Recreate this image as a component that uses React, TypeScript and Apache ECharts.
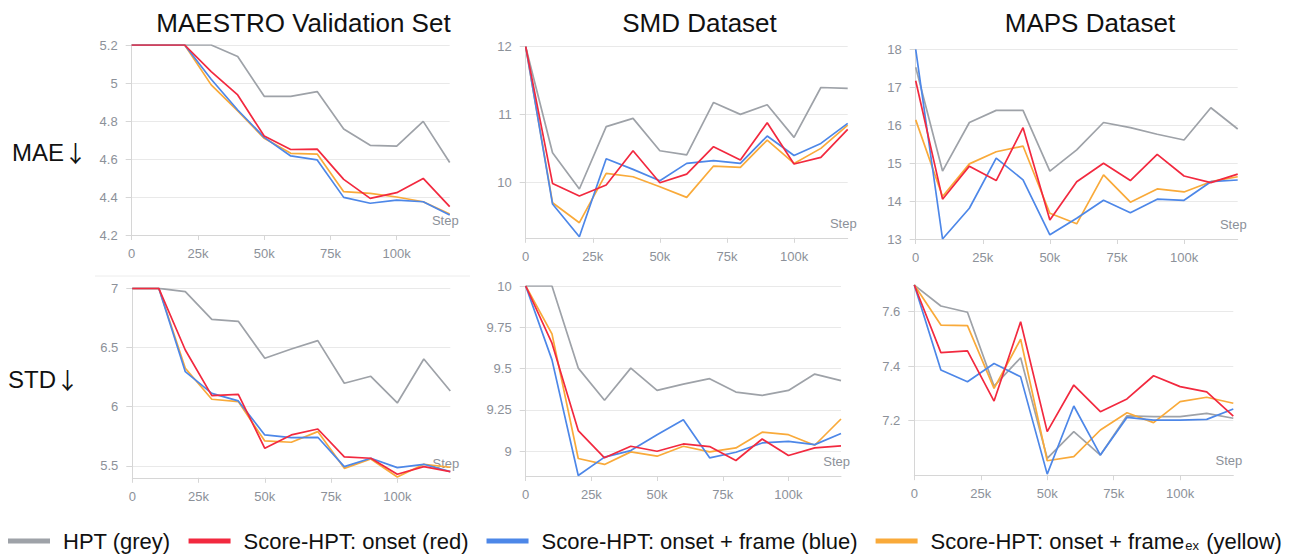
import React, { useEffect, useRef } from 'react';
import * as echarts from 'echarts';

// ---------- data ----------
const steps = [0, 10000, 20000, 30000, 40000, 50000, 60000, 70000, 80000, 90000, 100000, 110000, 120000];

const columnTitles = ['MAESTRO Validation Set', 'SMD Dataset', 'MAPS Dataset'];
const rowLabels = ['MAE', 'STD'];
const rowArrow = '↓';

const NAME_GREY = 'HPT (grey)';
const NAME_RED = 'Score-HPT: onset (red)';
const NAME_BLUE = 'Score-HPT: onset + frame (blue)';
const NAME_YELLOW = 'Score-HPT: onset + frameex (yellow)';

// MAESTRO MAE
const maestroMaeGrey = [5.2, 5.2, 5.2, 5.2, 5.139, 4.93, 4.93, 4.955, 4.758, 4.672, 4.668, 4.798, 4.582];
const maestroMaeRed = [5.2, 5.2, 5.2, 5.06, 4.937, 4.721, 4.65, 4.652, 4.493, 4.393, 4.423, 4.498, 4.349];
const maestroMaeBlue = [5.2, 5.2, 5.2, 5.02, 4.858, 4.714, 4.616, 4.595, 4.398, 4.367, 4.384, 4.375, 4.305];
const maestroMaeYellow = [5.2, 5.2, 5.2, 4.99, 4.853, 4.709, 4.63, 4.626, 4.428, 4.419, 4.4, 4.375, 4.31];

// SMD MAE
const smdMaeGrey = [12, 10.44, 9.907, 10.824, 10.946, 10.47, 10.41, 11.18, 11.005, 11.147, 10.667, 11.4, 11.387];
const smdMaeRed = [12, 9.99, 9.804, 9.966, 10.47, 10.0, 10.127, 10.53, 10.333, 10.882, 10.275, 10.373, 10.784];
const smdMaeBlue = [12, 9.686, 9.206, 10.353, 10.196, 10.03, 10.284, 10.324, 10.284, 10.686, 10.4, 10.578, 10.873];
const smdMaeYellow = [12, 9.706, 9.412, 10.137, 10.088, 9.941, 9.784, 10.245, 10.225, 10.627, 10.284, 10.505, 10.848];

// MAPS MAE
const mapsMaeGrey = [17.525, 14.79, 16.07, 16.39, 16.39, 14.79, 15.35, 16.07, 15.935, 15.76, 15.61, 16.46, 15.9];
const mapsMaeRed = [17.17, 14.05, 14.92, 14.54, 15.935, 13.5, 14.51, 14.995, 14.54, 15.23, 14.66, 14.485, 14.71];
const mapsMaeBlue = [18, 13.0, 13.81, 15.13, 14.56, 13.11, 13.545, 14.02, 13.69, 14.05, 14.02, 14.51, 14.555];
const mapsMaeYellow = [16.14, 14.12, 14.98, 15.3, 15.45, 13.68, 13.4, 14.69, 13.97, 14.32, 14.24, 14.51, 14.64];

// MAESTRO STD
const maestroStdGrey = [7, 7, 6.972, 6.738, 6.721, 6.409, 6.488, 6.558, 6.198, 6.257, 6.032, 6.403, 6.133];
const maestroStdRed = [7, 7, 6.479, 6.094, 6.105, 5.649, 5.762, 5.812, 5.576, 5.565, 5.43, 5.494, 5.452];
const maestroStdBlue = [7, 7, 6.296, 6.113, 6.049, 5.762, 5.739, 5.742, 5.494, 5.565, 5.486, 5.514, 5.452];
const maestroStdYellow = [7, 7, 6.325, 6.063, 6.043, 5.711, 5.7, 5.79, 5.48, 5.559, 5.407, 5.514, 5.489];

// SMD STD
const smdStdGrey = [10, 10, 9.503, 9.308, 9.503, 9.368, 9.406, 9.439, 9.358, 9.338, 9.368, 9.467, 9.427];
const smdStdRed = [10, 9.654, 9.125, 8.96, 9.03, 9.0, 9.044, 9.028, 8.944, 9.074, 8.974, 9.02, 9.032];
const smdStdBlue = [10, 9.553, 8.853, 8.964, 9.004, 9.1, 9.191, 8.96, 8.994, 9.05, 9.06, 9.04, 9.107];
const smdStdYellow = [10, 9.71, 8.956, 8.92, 8.996, 8.97, 9.03, 8.996, 9.02, 9.115, 9.1, 9.036, 9.195];

// MAPS STD
const mapsStdGrey = [7.698, 7.621, 7.598, 7.327, 7.431, 7.062, 7.16, 7.074, 7.218, 7.215, 7.215, 7.227, 7.209];
const mapsStdRed = [7.698, 7.45, 7.456, 7.272, 7.563, 7.16, 7.331, 7.233, 7.28, 7.365, 7.325, 7.306, 7.217];
const mapsStdBlue = [7.698, 7.386, 7.343, 7.41, 7.361, 7.004, 7.254, 7.074, 7.212, 7.202, 7.202, 7.205, 7.243];
const mapsStdYellow = [7.698, 7.551, 7.549, 7.319, 7.499, 7.053, 7.068, 7.166, 7.229, 7.193, 7.27, 7.286, 7.264];

// ---------- layout / styles ----------
const COLORS = { grey: '#9ea2a8', red: '#f2293f', blue: '#4d87e8', yellow: '#f9aa3a' };
const FONT = '"Liberation Sans", Arial, sans-serif';
const AXIS_GREY = '#8c9199';

const panels = [
  { grid: { left: 131.7, top: 45, width: 318, height: 190 },
    y: { min: 4.2, max: 5.2, interval: 0.2 },
    data: [maestroMaeGrey, maestroMaeRed, maestroMaeBlue, maestroMaeYellow] },
  { grid: { left: 525.7, top: 46.7, width: 322, height: 191.1 },
    y: { min: 9.19, max: 12, minInterval: 1, maxInterval: 1, hideMin: true },
    data: [smdMaeGrey, smdMaeRed, smdMaeBlue, smdMaeYellow] },
  { grid: { left: 915.7, top: 49.3, width: 322, height: 189.7 },
    y: { min: 13, max: 18, interval: 1 },
    data: [mapsMaeGrey, mapsMaeRed, mapsMaeBlue, mapsMaeYellow] },
  { grid: { left: 132.3, top: 288.3, width: 318, height: 189.5 },
    y: { min: 5.4, max: 7, minInterval: 0.5, maxInterval: 0.5, hideMin: true },
    data: [maestroStdGrey, maestroStdRed, maestroStdBlue, maestroStdYellow] },
  { grid: { left: 525.7, top: 286, width: 315.3, height: 190 },
    y: { min: 8.85, max: 10, minInterval: 0.25, maxInterval: 0.25, hideMin: true },
    data: [smdStdGrey, smdStdRed, smdStdBlue, smdStdYellow] },
  { grid: { left: 914.3, top: 284.5, width: 319, height: 190.7 },
    y: { min: 7, max: 7.7, interval: 0.2, hideMin: true, hideMax: true },
    data: [mapsStdGrey, mapsStdRed, mapsStdBlue, mapsStdYellow] },
];

function buildOption() {
  const grids: any[] = [];
  const xAxes: any[] = [];
  const yAxes: any[] = [];
  const series: any[] = [];
  const names = [NAME_GREY, NAME_RED, NAME_BLUE, NAME_YELLOW];
  const cols = [COLORS.grey, COLORS.red, COLORS.blue, COLORS.yellow];
  const drawOrder = [0, 3, 2, 1];

  panels.forEach((p, i) => {
    grids.push({ ...p.grid, containLabel: false });
    xAxes.push({
      type: 'value', gridIndex: i, min: 0, max: 120000, interval: 25000,
      name: 'Step', nameLocation: 'end', nameGap: 9,
      nameTextStyle: { color: AXIS_GREY, fontSize: 13, fontFamily: FONT, align: 'right', verticalAlign: 'bottom', padding: [0, 0, 8, 0] },
      axisLine: { show: true, lineStyle: { color: '#d6d6d6', width: 1 } },
      axisTick: { show: true, length: 5, lineStyle: { color: '#d6d6d6' } },
      axisLabel: {
        color: AXIS_GREY, fontSize: 13, fontFamily: FONT, margin: 12, showMaxLabel: false,
        formatter: (v: number) => (v === 0 ? '0' : v / 1000 + 'k'),
      },
      splitLine: { show: false },
    });
    const y: any = p.y;
    const yAxis: any = {
      type: 'value', gridIndex: i, min: y.min, max: y.max, scale: true,
      axisLine: { show: true, lineStyle: { color: '#d6d6d6', width: 1 } },
      axisTick: { show: true, length: 6, lineStyle: { color: '#d6d6d6' } },
      axisLabel: {
        color: AXIS_GREY, fontSize: 13, fontFamily: FONT, margin: 14,
        showMinLabel: !y.hideMin, showMaxLabel: !y.hideMax,
      },
      splitLine: { show: true, showMaxLine: !y.hideMax, lineStyle: { color: '#e9e9e9', width: 1 } },
    };
    if (y.interval != null) yAxis.interval = y.interval;
    if (y.minInterval != null) { yAxis.minInterval = y.minInterval; yAxis.maxInterval = y.maxInterval; }
    yAxes.push(yAxis);

    drawOrder.forEach((k) => {
      series.push({
        type: 'line', name: names[k], xAxisIndex: i, yAxisIndex: i,
        showSymbol: false, symbol: 'none',
        lineStyle: { color: cols[k], width: 1.7 },
        itemStyle: { color: cols[k] },
        data: steps.map((s, j) => [s, p.data[k][j]]),
      });
    });
  });

  const titleCenters = [298.5, 694.5, 1085];
  const titles = columnTitles.map((t, i) => ({
    text: t, left: titleCenters[i], top: 5, textAlign: 'center',
    textStyle: { fontSize: 26, fontWeight: 'normal', color: '#111', fontFamily: FONT },
  }));

  const rowStyle = {
    fontSize: 24, fill: '#111', fontFamily: FONT,
    rich: { a: { fontSize: 23, fontFamily: '"Noto Sans CJK SC", "DejaVu Sans", sans-serif', fill: '#111' } },
  };

  return {
    animation: false,
    backgroundColor: '#ffffff',
    title: titles,
    grid: grids,
    xAxis: xAxes,
    yAxis: yAxes,
    series,
    legend: {
      data: [NAME_GREY, NAME_RED, NAME_BLUE, NAME_YELLOW],
      left: 8, top: 530, padding: 0, icon: 'rect', itemWidth: 42, itemHeight: 5, itemGap: 18,
      selectedMode: false,
      formatter: (name: string) => (name === NAME_YELLOW ? 'Score-HPT: onset + frame{sub|ex} (yellow)' : name),
      textStyle: {
        fontSize: 22, lineHeight: 22, color: '#111', fontFamily: FONT, padding: [0, 0, 0, 8],
        rich: { sub: { fontSize: 13, color: '#111', fontFamily: FONT, verticalAlign: 'bottom', padding: [8, 1, 0, 1] } },
      },
    },
    graphic: [
      { type: 'text', left: 12, top: 140, style: { ...rowStyle, text: rowLabels[0] + '{a|' + rowArrow + '}' } },
      { type: 'text', left: 8, top: 367, style: { ...rowStyle, text: rowLabels[1] + '{a|' + rowArrow + '}' } },
      { type: 'line', shape: { x1: 95, y1: 276, x2: 470, y2: 276 }, style: { stroke: '#ececec', lineWidth: 1 } },
    ],
  };
}

export default function App() {
  const ref = useRef<HTMLDivElement>(null);
  useEffect(() => {
    if (!ref.current) return;
    const chart = echarts.init(ref.current, undefined, { renderer: 'svg' });
    chart.setOption(buildOption() as any);
    return () => chart.dispose();
  }, []);
  return <div ref={ref} style={{ position: 'absolute', left: 0, top: 0, width: 1309, height: 555 }} />;
}
